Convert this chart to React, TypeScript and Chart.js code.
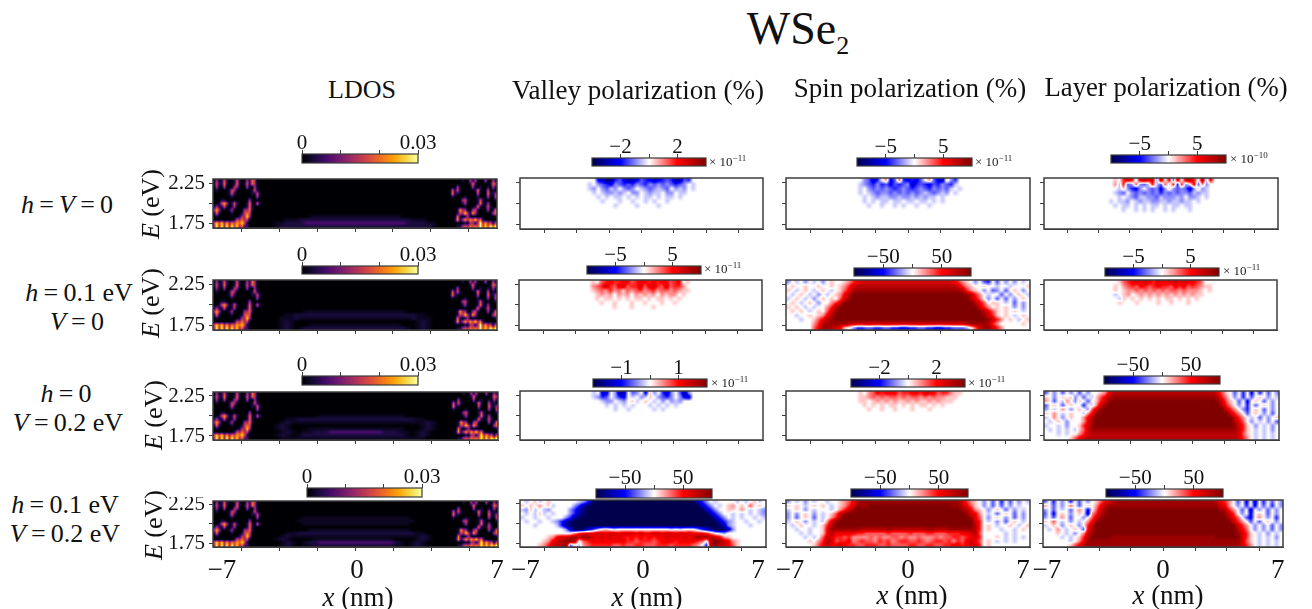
import React, { useEffect, useRef } from "react";
import { Chart, registerables } from "chart.js";

Chart.register(...registerables);

// ---------- values ----------
// LDOS digits: 0..9 of the colour bar, ":" half a step. Polarization: 1..9 positive, a..i negative, . zero.
const LDOS_LEFT = [
  "04015100151004164000",
  "15116100161015164000",
  "04004000440004004000",
  "01000015400000015100",
  "00000015100000011510",
  "00000001000000000400",
  "00011000000000400000",
  "00157401510001610510",
  "14115101400001610000",
  "47400014000044610000",
  "16100001000156500000",
  "01000000001448400000",
  "00000000154645000000",
  "58584746576851000000",
  "49494949584622000000",
];
const LDOS_RIGHT = [
  "00000010041400040041",
  "00000000016100000164",
  "00004000004001001041",
  "00515100000161005010",
  "00611000000050006114",
  "00100001000010004005",
  "00000045100015100001",
  "00000014000016104000",
  "00000000000161015100",
  "00001744004510004016",
  "00001548417400000046",
  "00006101400000000001",
  "00017147475846100000",
  "00000001044149474515",
  "00001145465659585969",
];
const LDOS_MID_A = ["","","","","","","","","","","",
  "........::::::::::::::::::........",
  "....:::1111111111111111111111:::....",
  "..::1111222222222222222222221111::..",
  "..:111111111111111111111111111111:.."];
const LDOS_MID_B = ["","","","","","","","","",
  ".......::::::::::::::::::::.......",
  "....::111111111111111111111111::....",
  "..:::1::::::::::::::::::::::1:::..",
  "..:1:........................:1:..",
  "..:1:...::::::::::::::::::...:1:..",
  "..:1:.:11111111111111111111:.:1:.."];
const LDOS_MID_C = ["","","","","","","",
  "..........::::::::::::::::........",
  "....::1111111111111111111111::....",
  "...:1:::::::::::::::::::::::::1:..",
  "..:1:........................:1:..",
  "..:1:...::::::::::::::::::...:1:..",
  "..:1:.::1112222222222111::.:1:..",
  "..:1:.:1111111111111111111:.:1:..",
  "...:::::::::::::::::::::::::::..."];
const LDOS_MID_D = ["","","","","",
  ".......::::::::::::::::::::......",
  "......::::::::::::::::::::::......",
  ".......::::::::::::::::::::......","",
  "........:::::::::::::::::::.......",
  "....::1111111111111111111111::....",
  "...:1::::::::::::::::::::::::1:...",
  "..:1:....:::::::::::::::....:1:..",
  "..:1:.:11222222222222221:.:1:..",
  "..:1:.::111111111111111::.:1:.."];

const VALLEY_A = [
  "....efhgdcegfecdefedcdgfcd...",
  "..a.bcdebcdcdbcdbcbcbcdcb.a.",
  "..ab.bcab.bcb.abcbabc.bab.a.",
  "...a.abbaba.bb.abaa.bb.aa...",
  "....a.a.aa.a.a.aa.a.aa.a....",
  ".....a...a..a..a.a..a.......",
  "........a....a....a.........",
];
const VALLEY_B = [
  "...1.3454455345545455345.1...",
  "...2346435634463564363442...",
  "...12324231323423423323211..",
  "....1212.212.21212.2122.1...",
  "....1.11.1.1.11.1.11.1.1....",
  ".....1..1...1..1...1..1.....",
  "........1...1....1..........",
];
const VALLEY_C = [
  "...a.fe.bgf.cb.e1b.dfb.cgb...",
  "...abdc.bde.a.ba1.bcdb.bef..",
  ".....abb.ab.1a.1.a.b.bab.....",
  "......a.a.a.a...a.a.a.a.....",
  "........a..a.....a.a........",
];
const VALLEY_D = [
  ".a.1a.1. .....abd hiiiiiii iiiiiiii iiiiiiii fdb.a... .a.a.1a.",
  "1.1.2.1a ....bdgh iiiiiiii iiiiiiii iiiiiiii ifdb.a.1 2.1.3.1.",
  "ab1a.ab. ...bdfhi iiiiiiii iiiiiiii iiiiiiii iifdb..1 1.2.a.ab",
  ".a.a1a.a ...bdghi iiiiiiii iiiiiiii iiiiiiii iiifdb.. a.a.a.ab",
  "a..a..a. ..bdghii iiiiiiii iiiiiiii iiiiiiii iiiifdb. a.a..a.a",
  ".a..a..a bdfhiiii iiiiiiii iiiiiiii iiiiiiii iiiiifdb a..a..a.",
  "...a.... adghiiii iiiiiiii iiiiiiii iiiiiiii iiiiihfb a...a...",
  "........ ..bfiihf db.1.a.. ........ ..a.a... bdfgiihf b.......",
  "........ ....2455 56656656 66565566 56656565 5542.ab. ........",
  "......12 56678788 65656565 45454545 56565656 87876521 ........",
  ".....125 67897.34 55555555 44344434 55545555 43.79865 21......",
  "....1246 778c.a23 44444334 33443334 44344443 2.d88765 31......",
];

const SPIN_A = [
  "....bcfd.2ec3dedec.2cef1bd...",
  "...abcdbdcecdcbfdcdecdbcda..",
  "...a.bcbcbcdcbcdcbcdbcbca.a..",
  "...a.abcbbcbcbcbcbabcbab.a...",
  "....a.abaabbabbababaa.a......",
  "....a.a.aa.aa.aa.aa.a.a......",
  ".....a..a..a.a..a..a.........",
];
const SPIN_B = [
  "b.a.b.a. b.1..124 56666666 66666666 66666654 21.b.cd. c.b.b.a.",
  ".1..1..1 ..1.1246 77777777 77777777 77777776 421..1.. a..a...1",
  "1.a.1.a. 1.a.1357 88888888 88888888 88888888 7421.b.c b.c.1.b.",
  ".a.1.a.b .a.12579 99999999 99999999 99999999 98742.a. .c.b.1.a",
  "a.1.a.b. 1.1.3689 99999999 99999999 99999999 99753.b. c.c.b.1.",
  ".1.a.1.b ..246999 99999999 99999999 99999999 999753.1 1.a.c.b.",
  "1.1.a.a. .2479999 99999999 99999999 99999999 9999642. 1.1.b.b.",
  ".1.1.a.1 .3689999 99999999 99999999 99999999 99999753 1.1.1.a.",
  "..a..1.1 25799999 99999999 99999999 99999999 99999864 1.1.a.1.",
  "...a..13 57899999 99999999 99999999 99999999 99999986 42.1.a.1",
  "......24 78888876 66666666 66666666 66666666 67888874 2.....1.",
  "......35 887651.b ddccddcc ddeeddcc ddeeddcc cb.36886 42......",
];
const SPIN_C = [
  "...1.2354555344554655344211..",
  "...11232323323233232322111...",
  "...11.1212121121211212111....",
  "....1.1.1.11.1.1.11.1.1......",
  ".....1..1..1...1...1.........",
];
const SPIN_D = [
  "b.a.b.a. .a..1235 78888888 88888888 88888888 6421.b.c .d.c.b.a",
  "1.1.a.1. 1.a.1246 88899999 99999999 99999988 7531.b.c .c.b.a..",
  "a.1.b.a. ..a.2468 99999999 99999999 99999999 87521.b. 1.c.b.a.",
  "b.b.1.b. a.136899 99999999 99999999 99999999 98652.a. c.1.c.b.",
  "b.c.1.c. a.248999 99999999 99999999 99999999 99853.b. 1.b.c.b.",
  "a.1.b.a. a2689999 99999999 99999999 99999999 99964.a. b.c.1.a.",
  ".a.1..a. 14799999 99999999 99999999 99999999 99974.1. a..1.a.1",
  "..a..a.. 15888888 87777778 77777777 88777888 88874.1. .a..a.1.",
  "...a.a.. 15755555 44333334 33334333 44333444 55673... ..a.a...",
  "....a.a. 36644342 22232322 33232232 22323344 34564... 1.a.a.a.",
  ".....1.2 47634452 34332434 23443343 23443424 35653.1. a.a.a...",
  "......13 57556544 33444334 33334433 44334455 45664.1. ........",
];

const LAYER_A = [
  "...1.465a6756b7.5c6.674.7a5..",
  "...2a4cb3bca4ac3a4d4b.5c2b..",
  "...a1bdeb.bcbeb1bcbcfb1ba..",
  "...abc.bcbcbcbdbcbcbbcabaa..",
  "...a.abcaabbcabbbab.bba.a..",
  "..a.aab.abaabbaabaabaa.a....",
  "...a.aa.a.a.aa.a.aa.aa......",
  "....a..a.a.a..a.a...a......",
];
const LAYER_B = [
  "....13456565465566565543...",
  "...1.234354345443545343211..",
  "...1.1223232323233232221.1..",
  "...a.12.1212121212121211....",
  "....a1.1.1.1.1.11.1.1.1.....",
  "....1...1....1..1...1.......",
];
const LAYER_C = [
  "c.b.c.b. c.b..125 77777777 77777777 77777777 7531.c.d .e.d.c.b",
  "1.b.1.1b .c.a1357 88888888 88888888 88888888 8742.b.d .c.1.b.a",
  "2.c.a2.b 1.c.1468 99999999 99999999 99999999 98631.c. e.1.c.b.",
  "c.1.c.1. .d.a2689 99999999 99999999 99999999 99742.b. d.c.1.b.",
  "b.a.2.b. 1.b36899 99999999 99999999 99999999 999642.b d.1.c.b.",
  "1.2.a.1. .a258999 99999999 99999999 99999999 9999642. c.1.b.c.",
  "a.2.b.1. .2579999 99999999 99999999 99999999 99999642 .a.c.b.1",
  ".a.1.b.. .2589999 99999999 99999999 99999999 99999753 .b.a.b.c",
  "a..a.b.. 14689999 99999999 99999999 99999999 99999864 1.b.a.b.",
  ".a.a.a.a 13688888 88888888 88888888 88888888 88888864 1.a.a.b.",
  "...a.a.. 24677777 77777777 77777777 77777777 77777763 1.a.a.a.",
  "......13 56777777 77777777 77777777 77777777 77777764 2.a.a.a.",
];
const LAYER_D = [
  "c.d.b.d. c.b.1356 78888888 88888888 88888888 7542.c.e .f.d.c.b",
  "2.c.b.3. c.1.2578 88888888 88888888 88888888 8652.b.d .e.c.d.b",
  "b.c.a.c. 2.e.3689 99999999 99999999 99999999 98742.c. f.b.c.b.",
  "c.e.1.b. 1.f24789 99999999 99999999 99999999 99864.b. e.1.c.b.",
  "b.c.2.c. .b.36899 99999999 99999999 99999999 999753.c e.2.b.d.",
  "1.3.a.b. a.258999 99999999 99999999 99999999 9999642. c.c.1.b.",
  "a.1.b.1. b.479999 99999999 99999999 99999999 99999642 .b.b.c.b",
  ".a.2.a.1 .c579999 99999999 99999999 99999999 99999753 .b.b.c.b",
  "...1.a.b .2689999 99999999 99999999 99999999 99999864 1.a.b.a.",
  "....a.a. 14799999 88888888 88888888 88888888 99999964 1.a.a.b.",
  "......a. 25888888 88888888 88888888 88888888 88888863 1.a.a.a.",
  "......13 57888888 88888888 88888888 88888888 88888864 2.a.a.a.",
];

const X_TICKS = [-5.6, -3.73, -1.87, 0, 1.87, 3.73, 5.6];
const E_TICKS = [1.75, 2, 2.25];
const X_LABELS = ["\u22127", "0", "7"];

// ---------- rendering ----------
const INK = "#3c3c3c";
const SERIF = '"Liberation Serif", serif';
const INFERNO: number[][] = [[0,0,4],[22,11,57],[66,10,104],[106,23,110],[147,38,103],[188,55,84],[221,81,58],[243,120,25],[252,165,10],[246,215,70],[252,255,164]];
const SEISMIC: number[][] = [[0,0,76],[0,0,255],[255,255,255],[255,0,0],[128,0,0]];

function ramp(stops: number[][], t: number) {
  const f = Math.max(0, Math.min(0.9999, t)) * (stops.length - 1);
  const i = Math.floor(f), u = f - i;
  return [0,1,2].map((k) => stops[i][k] + (stops[i + 1][k] - stops[i][k]) * u);
}
const infernoColor = (v: number) => ramp(INFERNO, v);
const seismicColor = (v: number) => ramp(SEISMIC, (v + 1) / 2);

function level(c: string) {
  if (c === ":") return 0.5 / 9;
  if (c >= "0" && c <= "9") return +c / 9;
  if (c >= "a" && c <= "i") return -(c.charCodeAt(0) - 96) / 9;
  return 0;
}
type Layer = { x0: number; x1: number; cells: number[][] };
function toLayer(rows: string[], x0: number, x1: number, nRows: number): Layer {
  const clean = rows.map((r) => r.replace(/ /g, ""));
  const cols = Math.max(...clean.map((r) => r.length));
  const cells: number[][] = [];
  for (let r = 0; r < nRows; r++) {
    const s = clean[r] || "";
    const pad = Math.floor((cols - s.length) / 2);
    const row = new Array(cols).fill(0);
    for (let c = 0; c < s.length; c++) row[c + pad] = level(s[c]);
    cells.push(row);
  }
  return { x0, x1, cells };
}
const Y_MIN = 1.7, Y_MAX = 2.3;
function sample(l: Layer, x: number, y: number) {
  if (x < l.x0 || x > l.x1) return 0;
  const R = l.cells.length, C = l.cells[0].length;
  const fx = Math.max(0, Math.min(C - 1.001, ((x - l.x0) / (l.x1 - l.x0)) * C - 0.5));
  const fy = Math.max(0, Math.min(R - 1.001, ((Y_MAX - y) / (Y_MAX - Y_MIN)) * R - 0.5));
  const i = Math.floor(fx), j = Math.floor(fy), u = fx - i, w = fy - j;
  return (l.cells[j][i] * (1 - u) + l.cells[j][i + 1] * u) * (1 - w) + (l.cells[j + 1][i] * (1 - u) + l.cells[j + 1][i + 1] * u) * w;
}

const makeHeatPlugin = (layers: Layer[], map: (v: number) => number[]) => ({
  id: "heat",
  beforeDatasetsDraw(chart: any) {
    const a = chart.chartArea, xs = chart.scales.x, ys = chart.scales.y;
    const w = Math.round(a.right - a.left), h = Math.round(a.bottom - a.top);
    const off = document.createElement("canvas");
    off.width = w; off.height = h;
    const o = off.getContext("2d")!;
    const img = o.createImageData(w, h);
    for (let py = 0; py < h; py++) {
      const yv = ys.getValueForPixel(a.top + py + 0.5);
      for (let px = 0; px < w; px++) {
        const xv = xs.getValueForPixel(a.left + px + 0.5);
        let v = 0;
        for (const l of layers) v += sample(l, xv, yv);
        const c = map(v);
        const k = (py * w + px) * 4;
        img.data[k] = c[0]; img.data[k + 1] = c[1]; img.data[k + 2] = c[2]; img.data[k + 3] = 255;
      }
    }
    o.putImageData(img, 0, 0);
    chart.ctx.drawImage(off, a.left, a.top);
  },
  afterDraw(chart: any) {
    const a = chart.chartArea, ctx = chart.ctx;
    ctx.save();
    ctx.strokeStyle = INK; ctx.lineWidth = 1.5;
    ctx.strokeRect(a.left, a.top, a.right - a.left, a.bottom - a.top);
    ctx.restore();
  },
});

const makeBarPlugin = (map: (v: number) => number[], hi: number) => ({
  id: "bar",
  beforeDatasetsDraw(chart: any) {
    const a = chart.chartArea, xs = chart.scales.x, ctx = chart.ctx;
    ctx.save();
    for (let px = a.left; px < a.right; px++) {
      const c = map(xs.getValueForPixel(px + 0.5) / hi);
      ctx.fillStyle = `rgb(${c[0]},${c[1]},${c[2]})`;
      ctx.fillRect(px, a.top, 1, a.bottom - a.top);
    }
    ctx.restore();
  },
  afterDraw(chart: any) {
    const a = chart.chartArea, ctx = chart.ctx;
    ctx.save();
    ctx.strokeStyle = INK; ctx.lineWidth = 1.2;
    ctx.strokeRect(a.left, a.top, a.right - a.left, a.bottom - a.top);
    ctx.restore();
  },
});

function fitTo(size: number, key: "height" | "width") {
  return (s: any) => { s[key] = size; s.paddingLeft = 0; s.paddingRight = 0; s.paddingTop = 0; s.paddingBottom = 0; };
}

type PanelDef = { box: number[]; layers: Layer[]; map: (v: number) => number[]; yLabels?: boolean; labelAt?: number[] };

function Panel({ p }: { p: PanelDef }) {
  const ref = useRef<HTMLCanvasElement>(null);
  const [l, t, r, b] = p.box;
  const mL = p.yLabels ? 56 : 10, mR = 30, mT = 4, mB = p.labelAt ? 42 : 8;
  const width = r - l + mL + mR, height = b - t + mT + mB;
  useEffect(() => {
    const pts: any[] = [];
    for (const ly of p.layers) {
      const R = ly.cells.length, C = ly.cells[0].length;
      ly.cells.forEach((row, j) => row.forEach((v, i) => {
        if (v !== 0) pts.push({ x: ly.x0 + ((i + 0.5) / C) * (ly.x1 - ly.x0), y: Y_MAX - ((j + 0.5) / R) * (Y_MAX - Y_MIN), v });
      }));
    }
    const scales: any = {
      x: {
        type: "linear", min: -7, max: 7, position: "bottom", weight: 0,
        afterBuildTicks: (s: any) => { s.ticks = X_TICKS.map((value) => ({ value })); },
        afterFit: fitTo(5, "height"),
        ticks: { display: false },
        grid: { drawOnChartArea: false, tickLength: 4, tickColor: INK, tickWidth: 1 },
        border: { color: INK, width: 1 },
      },
      y: {
        type: "linear", min: Y_MIN, max: Y_MAX, position: "left",
        afterBuildTicks: (s: any) => { s.ticks = E_TICKS.map((value) => ({ value })); },
        afterFit: fitTo(p.yLabels ? 52 : 6, "width"),
        ticks: p.yLabels
          ? { display: true, autoSkip: false, padding: 4, color: "#111", font: { family: SERIF, size: 21 }, callback: (v: number) => (v === 2 ? "" : v.toFixed(2)) }
          : { display: false },
        grid: { drawOnChartArea: false, tickLength: 4, tickColor: INK, tickWidth: 1 },
        border: { color: INK, width: 1 },
      },
    };
    if (p.labelAt) {
      const at = p.labelAt;
      scales.xl = {
        type: "linear", axis: "x", min: -7, max: 7, position: "bottom", weight: 1,
        afterBuildTicks: (s: any) => { s.ticks = at.map((value) => ({ value })); },
        afterFit: fitTo(mB - 5, "height"),
        ticks: { autoSkip: false, maxRotation: 0, padding: 3, color: "#111", font: { family: SERIF, size: 27 }, callback: (_: any, i: number) => X_LABELS[i] },
        grid: { display: false, drawTicks: false },
        border: { display: false },
      };
    }
    const chart = new Chart(ref.current!, {
      type: "scatter",
      data: { datasets: [{ data: pts, pointRadius: 0 }] },
      plugins: [makeHeatPlugin(p.layers, p.map)],
      options: {
        responsive: false, animation: false, events: [], devicePixelRatio: 1,
        layout: { padding: { left: mL - (p.yLabels ? 52 : 6), right: mR, top: mT, bottom: 0 } },
        scales,
        plugins: { legend: { display: false }, tooltip: { enabled: false } },
      },
    } as any);
    return () => chart.destroy();
  }, []);
  return <canvas ref={ref} width={width} height={height} style={{ position: "absolute", left: l - mL, top: t - mT, width, height }} />;
}

type BarDef = { box: number[]; range: number[]; ticks: number[]; labels: number[]; text: (v: number) => string; seismic: boolean };
function ColorBar({ d }: { d: BarDef }) {
  const ref = useRef<HTMLCanvasElement>(null);
  const [l, t, r, b] = d.box;
  const mX = 40, head = 30;
  const width = r - l + mX * 2, height = b - t + head + 2;
  useEffect(() => {
    const lo = d.range[0], hi = d.range[1];
    const chart = new Chart(ref.current!, {
      type: "scatter",
      data: { datasets: [{ data: [], pointRadius: 0 }] },
      plugins: [makeBarPlugin(d.seismic ? seismicColor : infernoColor, hi)],
      options: {
        responsive: false, animation: false, events: [], devicePixelRatio: 1,
        layout: { padding: { left: mX, right: mX, top: 0, bottom: 2 } },
        scales: {
          x: {
            type: "linear", min: lo, max: hi, position: "top",
            afterBuildTicks: (s: any) => { s.ticks = d.ticks.map((value) => ({ value })); },
            afterFit: fitTo(head, "height"),
            ticks: {
              autoSkip: false, maxRotation: 0, padding: -6, color: "#111", font: { family: SERIF, size: 21 },
              callback: (v: number) => (d.labels.includes(v) ? d.text(v) : ""),
            },
            grid: { drawOnChartArea: false, tickLength: 4, tickColor: INK, tickWidth: 1 },
            border: { display: false },
          },
          y: { display: false, min: 0, max: 1 },
        },
        plugins: { legend: { display: false }, tooltip: { enabled: false } },
      },
    } as any);
    return () => chart.destroy();
  }, []);
  return <canvas ref={ref} width={width} height={height} style={{ position: "absolute", left: l - mX, top: t - head, width, height }} />;
}

function T({ x, y, size, rot, children, style }: any) {
  return (
    <div style={{
      position: "absolute", left: x, top: y, fontSize: size, fontFamily: SERIF, color: "#111", whiteSpace: "pre", lineHeight: 1,
      transform: `translate(-50%,-50%)${rot ? ` rotate(${rot}deg)` : ""}`, ...style,
    }}>{children}</div>
  );
}
const I = ({ children }: any) => <i>{children}</i>;
function Exp({ x, y, p }: { x: number; y: number; p: string }) {
  return (
    <div style={{ position: "absolute", left: x, top: y - 8, fontSize: 13, lineHeight: "16px", fontFamily: SERIF, color: "#222", whiteSpace: "pre" }}>
      {"\u00d7 10"}<sup style={{ fontSize: 9, lineHeight: 0 }}>{p}</sup>
    </div>
  );
}

const num = (v: number) => (v < 0 ? "\u2212" + -v : "" + v);
const bar = (box: number[], half: number): BarDef => ({
  box, range: [-2 * half, 2 * half], ticks: [-half, 0, half], labels: [-half, half], text: num, seismic: true,
});
const ldosBar = (box: number[]): BarDef => ({
  box, range: [0, 0.03], ticks: [0, 0.01, 0.02, 0.03], labels: [0, 0.03], text: (v) => (v === 0 ? "0" : "0.03"), seismic: false,
});
const ldos = (mid: string[]) => [toLayer(LDOS_LEFT, -7, -4.5, 15), toLayer(mid, -4.5, 4.5, 15), toLayer(LDOS_RIGHT, 4.5, 7, 15)];
const sparse = (rows: string[]) => [toLayer(rows, -3.6, 3.6, 12)];
const full = (rows: string[]) => [toLayer(rows, -7, 7, 12)];

const PANELS: PanelDef[] = [
  { box: [213, 179, 497, 225], layers: ldos(LDOS_MID_A), map: infernoColor, yLabels: true },
  { box: [213, 280, 497, 327], layers: ldos(LDOS_MID_B), map: infernoColor, yLabels: true },
  { box: [213, 392, 498, 437], layers: ldos(LDOS_MID_C), map: infernoColor, yLabels: true },
  { box: [213, 501, 498, 547], layers: ldos(LDOS_MID_D), map: infernoColor, yLabels: true, labelAt: [-6.56, 0.07, 6.95] },
  { box: [520, 178, 763, 226], layers: sparse(VALLEY_A), map: seismicColor },
  { box: [519, 280, 762, 327], layers: sparse(VALLEY_B), map: seismicColor },
  { box: [520, 391, 763, 437], layers: sparse(VALLEY_C), map: seismicColor },
  { box: [520, 500, 766, 547], layers: full(VALLEY_D), map: seismicColor, labelAt: [-6.7, 0, 6.55] },
  { box: [786, 178, 1030, 226], layers: sparse(SPIN_A), map: seismicColor },
  { box: [786, 280, 1030, 327], layers: full(SPIN_B), map: seismicColor },
  { box: [786, 391, 1030, 437], layers: sparse(SPIN_C), map: seismicColor },
  { box: [786, 500, 1030, 547], layers: full(SPIN_D), map: seismicColor, labelAt: [-6.77, 0, 6.6] },
  { box: [1044, 178, 1278, 226], layers: sparse(LAYER_A), map: seismicColor },
  { box: [1044, 280, 1277, 327], layers: sparse(LAYER_B), map: seismicColor },
  { box: [1044, 391, 1279, 437], layers: full(LAYER_C), map: seismicColor },
  { box: [1043, 500, 1283, 547], layers: full(LAYER_D), map: seismicColor, labelAt: [-6.77, 0, 6.7] },
];

const BARS: BarDef[] = [
  ldosBar([302, 154, 418, 163]), ldosBar([302, 266, 418, 274]), ldosBar([302, 376, 418, 385]), ldosBar([307, 488, 422, 497]),
  bar([592, 158, 706, 166], 2), bar([587, 266, 701, 274], 5), bar([593, 379, 707, 387], 1), bar([596, 489, 712, 498], 50),
  bar([857, 158, 972, 166], 5), bar([854, 268, 971, 276], 50), bar([851, 379, 965, 387], 2), bar([851, 489, 968, 497], 50),
  bar([1111, 155, 1226, 163], 5), bar([1105, 268, 1219, 276], 5), bar([1104, 376, 1220, 384], 50), bar([1106, 489, 1223, 497], 50),
];

const Rel = ({ children }: any) => <>{"\u2009=\u2009"}{children}</>;

export default function App() {
  return (
    <div style={{ position: "absolute", left: 0, top: 0, width: 1312, height: 609, overflow: "hidden", background: "#fff", filter: "blur(0.45px)" }}>
      {PANELS.map((p, i) => <Panel key={i} p={p} />)}
      {BARS.map((d, i) => <ColorBar key={i} d={d} />)}

      <T x={798} y={29} size={46}>WSe<sub style={{ fontSize: 26, lineHeight: 0 }}>2</sub></T>
      <T x={362} y={90} size={26}>LDOS</T>
      <T x={638} y={90} size={27}>Valley polarization (%)</T>
      <T x={910} y={88} size={27}>Spin polarization (%)</T>
      <T x={1166} y={87} size={26.7}>Layer polarization (%)</T>

      <T x={67} y={205} size={26}><I>h</I><Rel><I>V</I></Rel><Rel>0</Rel></T>
      <T x={79} y={293} size={26}><I>h</I><Rel>0.1 eV</Rel></T>
      <T x={77} y={322} size={26}><I>V</I><Rel>0</Rel></T>
      <T x={66} y={394} size={26}><I>h</I><Rel>0</Rel></T>
      <T x={68} y={423} size={26}><I>V</I><Rel>0.2 eV</Rel></T>
      <T x={65} y={505} size={26}><I>h</I><Rel>0.1 eV</Rel></T>
      <T x={65} y={534} size={26}><I>V</I><Rel>0.2 eV</Rel></T>

      <T x={151} y={204} size={26} rot={-90}><I>E</I> (eV)</T>
      <T x={151} y={303} size={26} rot={-90}><I>E</I> (eV)</T>
      <T x={154} y={415} size={26} rot={-90}><I>E</I> (eV)</T>
      <T x={154} y={525} size={26} rot={-90}><I>E</I> (eV)</T>

      <T x={358} y={597} size={27}><I>x</I> (nm)</T>
      <T x={647} y={597} size={27}><I>x</I> (nm)</T>
      <T x={912} y={595} size={27}><I>x</I> (nm)</T>
      <T x={1168} y={595} size={27}><I>x</I> (nm)</T>

      <Exp x={709} y={162} p={"\u221211"} />
      <Exp x={704} y={269} p={"\u221211"} />
      <Exp x={711} y={383} p={"\u221211"} />
      <Exp x={975} y={162} p={"\u221211"} />
      <Exp x={968} y={383} p={"\u221211"} />
      <Exp x={1230} y={159} p={"\u221210"} />
      <Exp x={1223} y={271} p={"\u221211"} />
    </div>
  );
}
